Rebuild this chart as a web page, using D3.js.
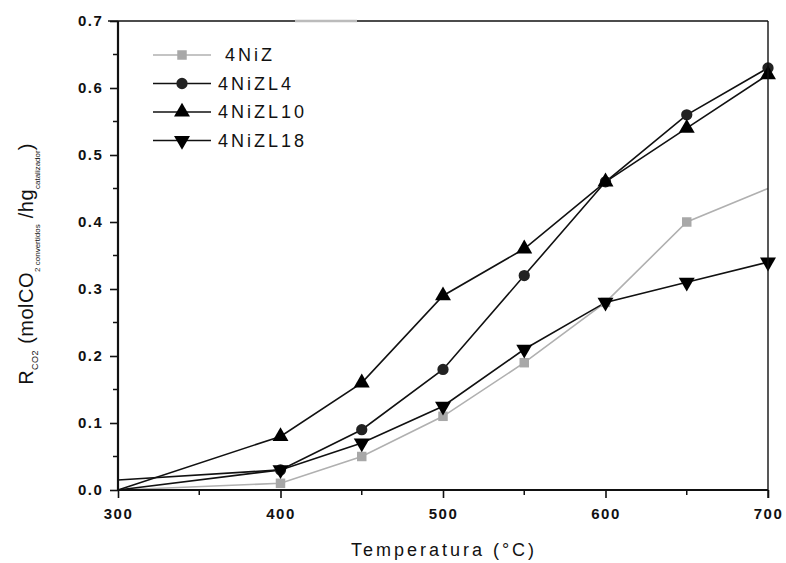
<!DOCTYPE html>
<html>
<head>
<meta charset="utf-8">
<script src="https://cdn.jsdelivr.net/npm/d3@7"></script>
<style>
  body { margin: 0; background: #fff; }
  svg text { font-family: "Liberation Sans", Arial, sans-serif; fill: #111; }
</style>
</head>
<body>
<svg id="chart" width="786" height="563"></svg>
<script>
// temperaturas (°C)
const temps = [300, 400, 450, 500, 550, 600, 650, 700]

// series
const niZ    = [0.0, 0.01, 0.05, 0.11, 0.19, 0.28, 0.40, 0.45]
const niZL4  = [0.0, 0.03, 0.09, 0.18, 0.32, 0.46, 0.56, 0.63]
const niZL10 = [0.0, 0.08, 0.16, 0.29, 0.36, 0.46, 0.54, 0.62]
const niZL18 = [0.015, 0.03, 0.07, 0.125, 0.21, 0.28, 0.31, 0.34]

const seriesNames = ['4NiZ', '4NiZL4', '4NiZL10', '4NiZL18']
const xTicks = [300, 400, 500, 600, 700]
const yTicks = [0.0, 0.1, 0.2, 0.3, 0.4, 0.5, 0.6, 0.7]

const series = [
  { name: seriesNames[0], values: niZ,    line: '#b0b0b0', fill: '#a8a8a8', symbol: d3.symbolSquare },
  { name: seriesNames[1], values: niZL4,  line: '#111',    fill: '#222',    symbol: d3.symbolCircle },
  { name: seriesNames[2], values: niZL10, line: '#111',    fill: '#000',    symbol: d3.symbolTriangle },
  { name: seriesNames[3], values: niZL18, line: '#111',    fill: '#000',    symbol: 'down' }
]

const margin = { left: 118, right: 18, top: 21, bottom: 73 }
const width = 786, height = 563
const svg = d3.select('#chart')

const x = d3.scaleLinear().domain([300, 700]).range([margin.left, width - margin.right])
const y = d3.scaleLinear().domain([0, 0.7]).range([height - margin.bottom, margin.top])

// marcadores
function markerPath(symbol, size) {
  if (symbol === 'down') {
    return d3.symbol().type(d3.symbolTriangle).size(size)()
  }
  return d3.symbol().type(symbol).size(size)()
}
const markerSize = s => s.symbol === d3.symbolCircle ? 100 : (s.symbol === d3.symbolSquare ? 90 : 110)

// lineas
const line = d3.line()
  .x((d, i) => x(temps[i]))
  .y(d => y(d))

const g = svg.append('g')
g.selectAll('path.serie').data(series).join('path')
  .attr('class', 'serie')
  .attr('fill', 'none')
  .attr('stroke', d => d.line)
  .attr('stroke-width', 1.6)
  .attr('d', d => line(d.values))

series.forEach(s => {
  const pts = s.values.map((v, i) => ({ t: temps[i], v })).filter(p => p.t > 300 && !(p.t === 700 && s.symbol === d3.symbolSquare))
  g.selectAll(null).data(pts).join('path')
    .attr('d', markerPath(s.symbol, markerSize(s)))
    .attr('fill', s.fill)
    .attr('transform', p => `translate(${x(p.t)},${y(p.v)})` + (s.symbol === 'down' ? ' rotate(180)' : ''))
})

// ejes
const xAxis = d3.axisBottom(x).tickValues(xTicks).tickSize(8).tickFormat(d3.format('d'))
const yAxis = d3.axisLeft(y).tickValues(yTicks).tickSize(8).tickFormat(d3.format('.1f'))

const gx = svg.append('g').attr('transform', `translate(0,${y(0)})`).call(xAxis)
const gy = svg.append('g').attr('transform', `translate(${x(300)},0)`).call(yAxis)

// ticks menores
svg.append('g').selectAll('line').data(d3.range(350, 700, 100)).join('line')
  .attr('x1', d => x(d)).attr('x2', d => x(d))
  .attr('y1', y(0)).attr('y2', y(0) + 5)
  .attr('stroke', '#111').attr('stroke-width', 1.5)
svg.append('g').selectAll('line').data(d3.range(0.05, 0.7, 0.1)).join('line')
  .attr('x1', x(300)).attr('x2', x(300) - 5)
  .attr('y1', d => y(d)).attr('y2', d => y(d))
  .attr('stroke', '#111').attr('stroke-width', 1.5)

;[gx, gy].forEach(a => {
  a.select('.domain').attr('stroke', '#111').attr('stroke-width', 2.2)
  a.selectAll('.tick line').attr('stroke', '#111').attr('stroke-width', 1.6)
  a.selectAll('.tick text')
    .style('font-size', '15px').style('font-weight', 'bold')
    .style('letter-spacing', '1.5px').attr('fill', '#222')
})
gx.selectAll('.tick text').attr('dy', '1.2em')
gy.selectAll('.tick text').attr('dx', '-0.25em')
gx.select('.domain').attr('d', `M${x(300)},0H${x(700)}`)
gy.select('.domain').attr('d', `M0,${y(0)}V${y(0.7)}`)

// marco superior y derecho
svg.append('line')
  .attr('x1', x(300) - 10).attr('x2', x(700))
  .attr('y1', y(0.7)).attr('y2', y(0.7))
  .attr('stroke', '#111').attr('stroke-width', 1.4)
svg.append('line')
  .attr('x1', 295).attr('x2', 357)
  .attr('y1', y(0.7)).attr('y2', y(0.7))
  .attr('stroke', '#bbb').attr('stroke-width', 2.5)
svg.append('line')
  .attr('x1', x(700)).attr('x2', x(700))
  .attr('y1', y(0.7)).attr('y2', y(0) + 8)
  .attr('stroke', '#111').attr('stroke-width', 1.4)

// leyenda
const legend = svg.append('g').attr('class', 'legend')
const legRow = legend.selectAll('g').data(series).join('g')
  .attr('transform', (d, i) => `translate(153,${55 + 28.5 * i})`)
legRow.append('line')
  .attr('x1', 0).attr('x2', 58)
  .attr('stroke', d => d.line).attr('stroke-width', 1.6)
legRow.append('path')
  .attr('d', d => markerPath(d.symbol, markerSize(d)))
  .attr('fill', d => d.fill)
  .attr('transform', d => 'translate(29,0)' + (d.symbol === 'down' ? ' rotate(180)' : ''))
legRow.append('text')
  .attr('x', (d, i) => i === 0 ? 72 : 65)
  .attr('dy', '0.36em')
  .style('font-size', '18px')
  .style('letter-spacing', '3px')
  .text(d => d.name)

// titulos
svg.append('text')
  .attr('x', 444).attr('y', 556)
  .attr('text-anchor', 'middle')
  .style('font-size', '18px')
  .style('letter-spacing', '3px')
  .text('Temperatura (°C)')

const yl = svg.append('text')
  .attr('transform', 'translate(33,264) rotate(-90)')
  .attr('text-anchor', 'middle')
  .style('font-size', '20px')
  .style('letter-spacing', '0.5px')
yl.append('tspan').text('R')
yl.append('tspan').attr('dy', 5).style('font-size', '9px').text('CO2')
yl.append('tspan').attr('dy', -5).text(' (molCO')
yl.append('tspan').attr('dy', 7).style('font-size', '8px').style('letter-spacing', '0px').text('2 convertidos')
yl.append('tspan').attr('dy', -7).text(' /hg')
yl.append('tspan').attr('dy', 7).style('font-size', '8px').style('letter-spacing', '0px').text('catalizador')
yl.append('tspan').attr('dy', -7).text(')')
</script>
</body>
</html>
